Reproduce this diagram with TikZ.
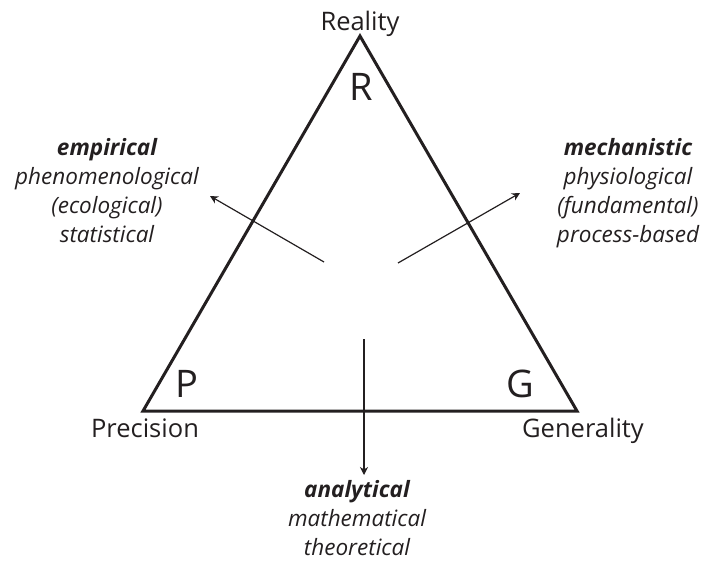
\documentclass[tikz,border=0pt]{standalone}
\usepackage{fontspec}
\setmainfont{Open Sans}
\usetikzlibrary{arrows.meta}
\definecolor{ink}{HTML}{231F20}
\tikzset{
  tri/.style={draw=ink, line width=3pt, line join=miter},
  arr/.style={draw=ink, line width=1.2pt, -{Stealth[length=8pt,width=8pt,inset=2.5pt]}},
  corner/.style={text=ink, inner sep=0pt, anchor=base, font=\fontsize{38}{40}\selectfont},
  axislabel/.style={text=ink, inner sep=0pt, anchor=base, font=\fontsize{25.5}{28}\selectfont},
  approach/.style={text=ink, inner sep=0pt, anchor=base, align=center, font=\fontsize{22.5}{29}\selectfont\itshape},
}
\begin{document}
\begin{tikzpicture}[x=1pt,y=-1pt]
\useasboundingbox (0,0) rectangle (704,565);
\coordinate (top) at (360,36);
\coordinate (bl) at (143,411);
\coordinate (br) at (577,411);
\draw[tri] (top) -- (bl) -- (br) -- cycle;

\node[axislabel] (reality) at (360,30) {Reality};
\node[axislabel] (precision) at (145,437) {Precision};
\node[axislabel] (generality) at (583,437) {Generality};

\node[corner] (R) at (361,100) {R};
\node[corner] (P) at (187,397) {P};
\node[corner] (G) at (520,397) {G};

\coordinate (ls) at (324,262);
\coordinate (le) at (210,196);
\coordinate (rs) at (398,263);
\coordinate (re) at (520,193);
\coordinate (ds) at (364,339);
\coordinate (de) at (364,475);
\draw[arr] (ls) -- (le);
\draw[arr] (rs) -- (re);
\draw[arr] (ds) -- (de);

% anchor=base of a multi-line node is the baseline of its last line
\node[approach] (emp) at (107,242) {{\bfseries empirical}\\phenomenological\\(ecological)\\statistical};
\node[approach] (mech) at (628,242) {{\bfseries mechanistic}\\physiological\\(fundamental)\\process-based};
\node[approach] (ana) at (357,555) {{\bfseries analytical}\\mathematical\\theoretical};
\end{tikzpicture}
\end{document}
